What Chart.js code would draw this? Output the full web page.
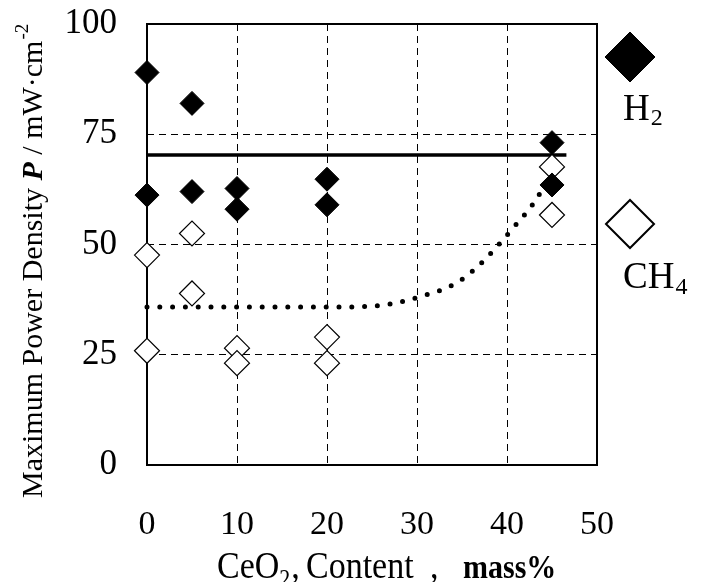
<!DOCTYPE html>
<html><head><meta charset="utf-8">
<script src="https://cdn.jsdelivr.net/npm/chart.js@4.4.1/dist/chart.umd.min.js"></script>
<style>html,body{margin:0;padding:0;background:#fff;}#wrap{width:705px;height:582px;position:relative;}</style>
</head><body><div id="wrap"><canvas id="c" width="705" height="582"></canvas></div>
<script>
// ---- data ----
const h2X  = [0, 0, 5, 5, 10, 10, 20, 20, 45, 45];
const h2Y  = [89.0, 61.2, 82.0, 62.0, 62.7, 58.0, 64.8, 59.0, 73.1, 63.5];
const ch4X = [0, 0, 5, 5, 10, 10, 20, 20, 45, 45];
const ch4Y = [47.6, 25.9, 52.5, 38.9, 26.5, 23.1, 29.0, 23.1, 67.6, 56.7];
const trendX = [0, 5, 10, 15, 20, 25, 27, 29, 31, 33, 35, 37, 39, 41, 43, 45];
const trendY = [35.8, 35.8, 35.8, 35.8, 35.8, 36.0, 36.5, 37.4, 38.6, 39.9, 42.1, 45.5, 49.8, 54.5, 59.5, 66.3];
const refX = [0, 46.6];
const refY = [70.3, 70.3];
const xTicks = [0, 10, 20, 30, 40, 50];
const yTicks = [0, 25, 50, 75, 100];
const seriesNames = [['H', '2'], ['CH', '4']];
const xTitleParts = ['CeO', '2', ',', 'Content', ',', 'mass%'];
const yTitleParts = ['Maximum Power Density ', 'P', ' / mW\u00B7cm', '-2'];

const SERIF = '"Liberation Serif", "Times New Roman", serif';
const pts = (xs, ys) => xs.map((x, i) => ({x: x, y: ys[i]}));

function diamond(ctx, cx, cy, r, fill, lw) {
  ctx.beginPath();
  ctx.moveTo(cx - r, cy); ctx.lineTo(cx, cy - r); ctx.lineTo(cx + r, cy); ctx.lineTo(cx, cy + r);
  ctx.closePath();
  ctx.fillStyle = fill; ctx.fill();
  ctx.lineWidth = lw; ctx.strokeStyle = '#000'; ctx.stroke();
}

const annot = {
  id: 'annot',
  beforeDatasetsDraw(chart) {
    const {ctx, chartArea: a} = chart;
    ctx.save();
    ctx.strokeStyle = '#000'; ctx.lineWidth = 2; ctx.setLineDash([]);
    ctx.strokeRect(a.left, a.top, a.right - a.left, a.bottom - a.top);
    ctx.restore();
  },
  afterDraw(chart) {
    const ctx = chart.ctx;
    ctx.save();
    ctx.fillStyle = '#000';
    ctx.textAlign = 'left';
    ctx.textBaseline = 'alphabetic';
    // x title
    ctx.save();
    ctx.translate(0, 578); ctx.scale(1, 1.12);
    ctx.font = '34px ' + SERIF;
    ctx.fillText(xTitleParts[0], 217, 0);
    let w = 217 + ctx.measureText(xTitleParts[0]).width;
    ctx.font = '22px ' + SERIF;
    ctx.fillText(xTitleParts[1], w, 8);
    w += ctx.measureText(xTitleParts[1]).width;
    ctx.font = '34px ' + SERIF;
    ctx.fillText(xTitleParts[2], w + 1, 0);
    ctx.fillText(xTitleParts[3], 306, 0);
    ctx.fillText(xTitleParts[4], 430, 0);
    ctx.font = 'bold 30px ' + SERIF;
    ctx.fillText(xTitleParts[5], 463, 0);
    ctx.restore();
    // y title
    ctx.save();
    ctx.translate(42, 498); ctx.rotate(-Math.PI / 2);
    ctx.font = '30px ' + SERIF;
    ctx.fillText(yTitleParts[0], 0, 0);
    let p = ctx.measureText(yTitleParts[0]).width;
    ctx.font = 'italic bold 30px ' + SERIF;
    ctx.fillText(yTitleParts[1], p, 0);
    p += ctx.measureText(yTitleParts[1]).width;
    ctx.font = '30px ' + SERIF;
    ctx.fillText(yTitleParts[2], p, 0);
    p += ctx.measureText(yTitleParts[2]).width;
    ctx.font = '19px ' + SERIF;
    ctx.fillText(yTitleParts[3], p + 1, -14);
    ctx.restore();
    // legend
    diamond(ctx, 630, 57, 25, '#000', 1);
    diamond(ctx, 630, 224, 24, '#fff', 2);
    ctx.fillStyle = '#000';
    ctx.font = '37px ' + SERIF;
    ctx.fillText(seriesNames[0][0], 623, 120);
    let lw = ctx.measureText(seriesNames[0][0]).width;
    ctx.font = '24px ' + SERIF;
    ctx.fillText(seriesNames[0][1], 623 + lw + 1, 125);
    ctx.font = '37px ' + SERIF;
    ctx.fillText(seriesNames[1][0], 623, 288);
    lw = ctx.measureText(seriesNames[1][0]).width;
    ctx.font = '24px ' + SERIF;
    ctx.fillText(seriesNames[1][1], 623 + lw + 1, 294);
    ctx.restore();
  }
};

const gridColor = (lo, hi) => (c) => (c.tick && (c.tick.value === lo || c.tick.value === hi)) ? 'rgba(0,0,0,0)' : '#000';

new Chart(document.getElementById('c'), {
  type: 'scatter',
  data: {
    datasets: [
      {label: 'H2', data: pts(h2X, h2Y), pointStyle: 'rectRot', pointRadius: 12, backgroundColor: '#000', borderColor: '#000', borderWidth: 1, showLine: false, clip: false},
      {label: 'trend', data: pts(trendX, trendY), showLine: true, pointRadius: 0, borderColor: '#000', borderWidth: 5, borderDash: [0, 12.8], borderCapStyle: 'round', cubicInterpolationMode: 'monotone', fill: false, clip: false},
      {label: 'CH4', data: pts(ch4X, ch4Y), pointStyle: 'rectRot', pointRadius: 12.5, backgroundColor: '#fff', borderColor: '#000', borderWidth: 1.2, showLine: false, clip: false},
      {label: 'ref', data: pts(refX, refY), showLine: true, pointRadius: 0, borderColor: '#000', borderWidth: 3.5, fill: false, clip: false}
    ]
  },
  options: {
    responsive: false,
    animation: false,
    events: [],
    devicePixelRatio: 1,
    layout: {padding: {left: 0, right: 108, top: 24, bottom: 0}},
    plugins: {legend: {display: false}, tooltip: {enabled: false}},
    scales: {
      x: {
        type: 'linear', min: 0, max: 50,
        afterBuildTicks: (s) => { s.ticks = xTicks.map(v => ({value: v})); },
        ticks: {padding: 40, color: '#000', font: {family: SERIF, size: 34}, maxRotation: 0, autoSkip: false},
        grid: {color: gridColor(0, 50), lineWidth: 1, drawTicks: false},
        border: {display: false, dash: [7, 5]},
        afterFit: (s) => { s.height = 117; s.paddingLeft = 0; s.paddingRight = 0; }
      },
      y: {
        type: 'linear', min: 0, max: 100,
        afterBuildTicks: (s) => { s.ticks = yTicks.map(v => ({value: v})); },
        ticks: {padding: 30, color: '#000', font: {family: SERIF, size: 35}, autoSkip: false},
        grid: {color: gridColor(0, 100), lineWidth: 1, drawTicks: false},
        border: {display: false, dash: [7, 5]},
        afterFit: (s) => { s.width = 147; s.paddingTop = 0; s.paddingBottom = 0; }
      }
    }
  },
  plugins: [annot]
});
</script>
</body></html>
